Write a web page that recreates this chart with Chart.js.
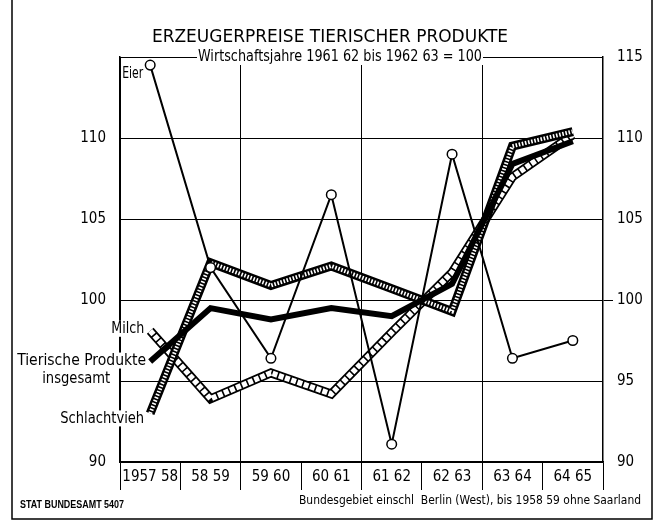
<!DOCTYPE html>
<html lang="de">
<head>
<meta charset="UTF-8">
<title>Erzeugerpreise tierischer Produkte</title>
<script src="https://cdn.jsdelivr.net/npm/chart.js"></script>
<style>
  body { margin: 0; background: #fff; }
</style>
</head>
<body>
<canvas id="chart" width="660" height="524"></canvas>
<script>
// Wirtschaftsjahre 1961/62 bis 1962/63 = 100
const jahre = ['1957 58', '58 59', '59 60', '60 61', '61 62', '62 63', '63 64', '64 65'];
const eier = [114.5, 102.0, 96.4, 106.5, 91.1, 109.0, 96.4, 97.5];
const tierischeProdukte = [96.2, 99.5, 98.8, 99.5, 99.0, 101.0, 108.4, 109.8];
const schlachtvieh = [93.0, 102.3, 100.9, 102.1, 100.7, 99.3, 109.5, 110.4];
const milch = [98.1, 93.9, 95.5, 94.2, 98.0, 101.7, 107.6, 110.2];
const yTicks = [90, 95, 100, 105, 110, 115];

const schmal = '"DejaVu Sans", sans-serif';

// Text mit weissem Grund, damit Linien dahinter unterbrochen werden
function textMitGrund(ctx, text, x, y, align, maxW) {
    ctx.textAlign = align;
    const w = Math.min(ctx.measureText(text).width, maxW || 1e9);
    const x0 = align === 'right' ? x - w : x;
    ctx.fillStyle = '#fff';
    ctx.fillRect(x0 - 1, y - 8, w + 2, 16);
    ctx.fillStyle = '#000';
    if (maxW) ctx.fillText(text, x, y, maxW); else ctx.fillText(text, x, y);
}

const beschriftung = {
    id: 'beschriftung',
    afterDraw(chart) {
        const ctx = chart.ctx;
        const a = chart.chartArea;
        const xs = chart.scales.x, ys = chart.scales.y;
        ctx.save();
        ctx.fillStyle = '#000';
        ctx.textBaseline = 'middle';

        // Titel
        ctx.font = '17px "DejaVu Sans", sans-serif';
        ctx.textAlign = 'center';
        ctx.fillText('ERZEUGERPREISE TIERISCHER PRODUKTE', 330, 38, 362);

        // Untertitel auf der oberen Rahmenlinie
        ctx.font = 'condensed 15px ' + schmal;
        textMitGrund(ctx, 'Wirtschaftsjahre 1961 62 bis 1962 63 = 100', 198, a.top, 'left', 284);

        // Reihenbeschriftungen am ersten Punkt
        const x0 = xs.getPixelForValue(0);
        ctx.font = 'condensed 16px ' + schmal;
        textMitGrund(ctx, 'Eier', x0 - 7, ys.getPixelForValue(eier[0]) + 9, 'right', 21);
        textMitGrund(ctx, 'Milch', x0 - 6, ys.getPixelForValue(milch[0]) - 2, 'right', 33);
        textMitGrund(ctx, 'Tierische Produkte', x0 - 4, ys.getPixelForValue(tierischeProdukte[0]) - 1, 'right', 129);
        textMitGrund(ctx, 'insgesamt', x0 - 40, ys.getPixelForValue(tierischeProdukte[0]) + 17, 'right', 68);
        textMitGrund(ctx, 'Schlachtvieh', x0 - 6, ys.getPixelForValue(schlachtvieh[0]) + 5, 'right', 84);

        // Fusszeilen
        ctx.font = 'bold 10px "Liberation Sans", sans-serif';
        ctx.textAlign = 'left';
        ctx.fillText('STAT BUNDESAMT 5407', 20, 505, 104);
        ctx.font = 'condensed 13px ' + schmal;
        ctx.textAlign = 'right';
        ctx.fillText('Bundesgebiet einschl  Berlin (West), bis 1958 59 ohne Saarland', 641, 501, 342);

        // ausserer Rahmen
        ctx.strokeStyle = '#000';
        ctx.lineWidth = 1.5;
        ctx.beginPath();
        ctx.moveTo(12, 0);
        ctx.lineTo(12, 519);
        ctx.lineTo(652, 519);
        ctx.lineTo(652, 0);
        ctx.stroke();
        ctx.restore();
    }
};

const tickFont = { family: schmal, size: 15, weight: 'condensed' };

const ctx = document.getElementById('chart').getContext('2d');
const chart = new Chart(ctx, {
    type: 'line',
    data: {
        labels: jahre,
        datasets: [
            {
                label: 'Eier', data: eier, borderColor: '#000', borderWidth: 2,
                pointRadius: 4.8, pointBackgroundColor: '#fff', pointBorderColor: '#000',
                pointBorderWidth: 1.5, order: 1
            },
            {
                label: 'Tierische Produkte insgesamt', data: tierischeProdukte,
                borderColor: '#000', borderWidth: 6, pointRadius: 0, order: 2
            },
            {
                label: 'Schlachtvieh', data: schlachtvieh,
                borderColor: '#000', borderWidth: 9, pointRadius: 0, order: 4
            },
            {
                label: 'Schlachtvieh Muster', data: schlachtvieh,
                borderColor: '#fff', borderWidth: 4, borderDash: [1.6, 1.6], pointRadius: 0, order: 3
            },
            {
                label: 'Milch', data: milch,
                borderColor: '#000', borderWidth: 9, pointRadius: 0, order: 6
            },
            {
                label: 'Milch Muster', data: milch,
                borderColor: '#fff', borderWidth: 5.5, borderDash: [5, 1.6], pointRadius: 0, order: 5
            }
        ]
    },
    options: {
        responsive: false,
        devicePixelRatio: 1,
        animation: false,
        layout: { padding: { top: 57, left: 0, right: 0, bottom: 0 } },
        plugins: { legend: { display: false }, tooltip: { enabled: false } },
        scales: {
            x: {
                offset: true,
                afterFit: s => { s.height = 62; },
                grid: {
                    offset: true,
                    color: c => c.index % 2 === 0 ? '#000' : 'rgba(0,0,0,0)',
                    tickColor: '#000', tickLength: 28, lineWidth: 1
                },
                border: { display: true, color: '#000', width: 1.5 },
                ticks: {
                    padding: -22, color: '#000', maxRotation: 0, autoSkip: false,
                    font: tickFont
                }
            },
            y: {
                position: 'left', min: 90, max: 115,
                afterBuildTicks: s => { s.ticks = yTicks.map(v => ({ value: v })); },
                afterFit: s => { s.width = 120; },
                grid: { color: '#000', lineWidth: 1, drawTicks: false },
                border: { display: true, color: '#000', width: 1.5 },
                ticks: {
                    padding: 14, color: '#000', font: tickFont,
                    callback: v => v === 115 ? '' : v
                }
            },
            y2: {
                position: 'right', min: 90, max: 115,
                afterBuildTicks: s => { s.ticks = yTicks.map(v => ({ value: v })); },
                afterFit: s => { s.width = 57; },
                grid: {
                    drawOnChartArea: false, drawTicks: true, tickLength: 10,
                    tickColor: c => c.tick && c.tick.value === 100 ? '#000' : 'rgba(0,0,0,0)'
                },
                border: { display: true, color: '#000', width: 1.5 },
                ticks: { padding: 4, color: '#000', font: tickFont }
            }
        }
    },
    plugins: [beschriftung]
});
</script>
</body>
</html>
